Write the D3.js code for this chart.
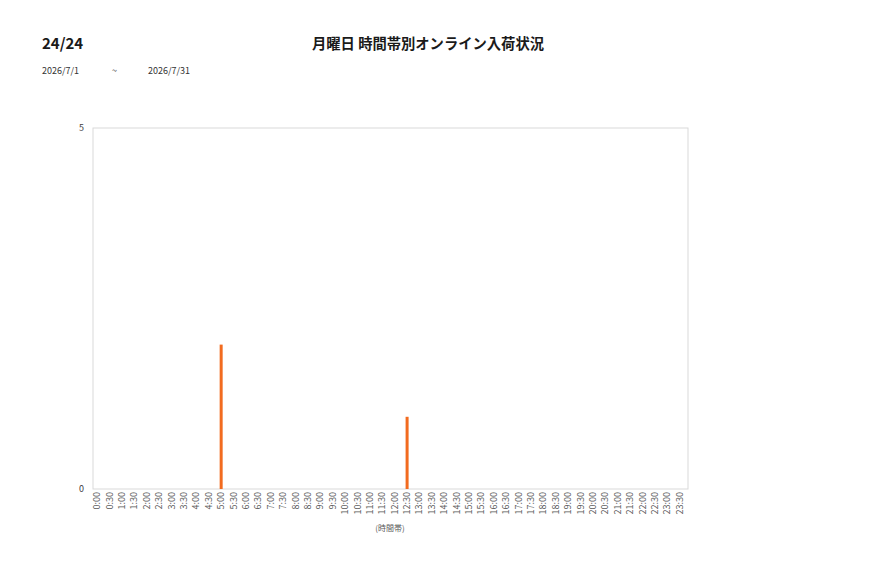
<!DOCTYPE html>
<html>
<head>
<meta charset="utf-8">
<script src="https://cdn.jsdelivr.net/npm/d3@7"></script>
<style>
  body { margin: 0; background: #fff; }
  text { font-family: "Noto Sans CJK JP", "Noto Sans", sans-serif; }
</style>
</head>
<body>
<div id="chart"></div>
<script>
// data
var times = [];
var hours = d3.range(0, 24);
hours.forEach(function(h){ times.push(h + ":00"); times.push(h + ":30"); });
var counts = [0,0,0,0,0,0,0,0,0,0,2,0,0,0,0,0,0,0,0,0,0,0,0,0,0,1,0,0,0,0,0,0,0,0,0,0,0,0,0,0,0,0,0,0,0,0,0,0];
var yTicks = [0, 5];

var W = 877, H = 578;
var plot = {left: 93, top: 128, right: 688, bottom: 489};

var svg = d3.select("#chart").append("svg")
  .attr("width", W).attr("height", H);

// header
svg.append("text").attr("x", 42).attr("y", 49)
  .attr("font-size", 15).attr("font-weight", 600).attr("fill", "#1a1a1a")
  .text("24/24");
svg.append("text").attr("x", 428).attr("y", 49)
  .attr("text-anchor", "middle")
  .attr("font-size", 14.3).attr("font-weight", 600).attr("fill", "#1a1a1a")
  .text("月曜日 時間帯別オンライン入荷状況");
svg.append("text").attr("x", 42).attr("y", 74).attr("font-size", 9).attr("fill", "#333").text("2026/7/1");
svg.append("text").attr("x", 112).attr("y", 74).attr("font-size", 9).attr("fill", "#333").text("~");
svg.append("text").attr("x", 148).attr("y", 74).attr("font-size", 9).attr("fill", "#333").text("2026/7/31");

var x = d3.scaleBand().domain(times).range([91, 686]);
var y = d3.scaleLinear().domain([0, 5]).range([plot.bottom, plot.top]);

// frame
svg.append("rect")
  .attr("x", plot.left).attr("y", plot.top)
  .attr("width", plot.right - plot.left).attr("height", plot.bottom - plot.top)
  .attr("fill", "none").attr("stroke", "#d9d9d9").attr("stroke-width", 1);

// bars
svg.append("g").selectAll("rect")
  .data(counts)
  .enter().append("rect")
    .attr("x", function(d, i){ return x(times[i]) + x.bandwidth() / 2 - 1.5; })
    .attr("y", function(d){ return y(d); })
    .attr("width", 3)
    .attr("height", function(d){ return y(0) - y(d); })
    .attr("fill", "#f26b1f");

// y axis labels
svg.append("g").selectAll("text")
  .data(yTicks)
  .enter().append("text")
    .attr("x", 84).attr("y", function(d){ return y(d) + 3; })
    .attr("text-anchor", "end").attr("font-size", 9).attr("fill", "#404040")
    .text(function(d){ return d; });

// x axis labels
svg.append("g").selectAll("text")
  .data(times)
  .enter().append("text")
    .attr("transform", function(d){
      return "translate(" + (x(d) + x.bandwidth() / 2 + 3) + ",492) rotate(-90)";
    })
    .attr("text-anchor", "end").attr("font-size", 9).attr("fill", "#595959")
    .text(function(d){ return d; });

svg.append("text").attr("x", 390).attr("y", 531)
  .attr("text-anchor", "middle").attr("font-size", 8).attr("fill", "#595959")
  .text("(時間帯)");
</script>
</body>
</html>
